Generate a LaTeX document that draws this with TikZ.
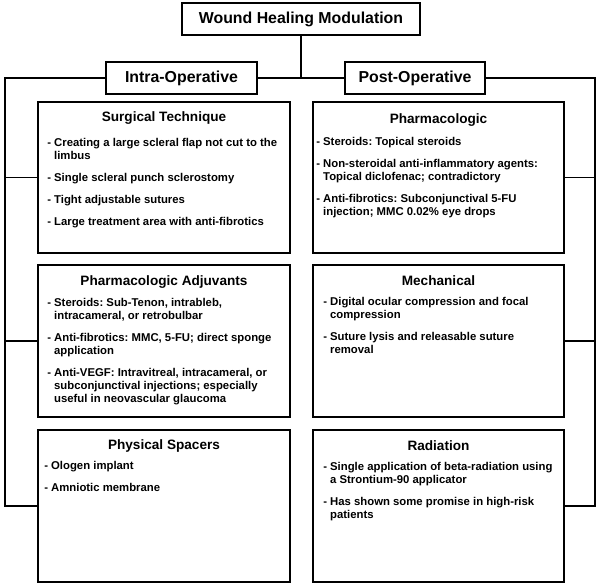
\documentclass[tikz,border=0pt]{standalone}
\usepackage{fontspec}
\setmainfont{Liberation Sans}
\newcommand\hng{\hphantom{- }}
\begin{document}
\frenchspacing
\begin{tikzpicture}[x=0.75pt,y=-0.75pt,
  hbox/.style={draw, line width=1.3pt, inner sep=0, outer sep=0, font=\bfseries\fontsize{11.9}{14}\selectfont},
  cbox/.style={draw, line width=1.3pt, inner sep=0, outer sep=0, anchor=north west},
  head/.style={font=\bfseries\fontsize{10.2}{12}\selectfont, anchor=base, inner sep=0},
  itm/.style={font=\bfseries\fontsize{8.5}{9.75}\selectfont, align=left, anchor=north west, inner sep=0},
  conn/.style={line width=1.3pt}]
\useasboundingbox (0,0) rectangle (600,585);
\fill[white] (0,0) rectangle (600,585);

\node[hbox, minimum width=178.5pt, minimum height=24pt] (top) at (301,19) {Wound Healing Modulation};
\node[hbox, minimum width=113.25pt, minimum height=24pt] (intra) at (181.5,78) {Intra-Operative};
\node[hbox, minimum width=105pt, minimum height=24pt] (post) at (415,78) {Post-Operative};

\node[cbox, minimum width=189pt, minimum height=113.25pt] (surg) at (38,102) {};
\node[cbox, minimum width=188.25pt, minimum height=113.25pt] (pharm) at (313,102) {};
\node[cbox, minimum width=189pt, minimum height=114pt] (adj) at (38,265) {};
\node[cbox, minimum width=188.25pt, minimum height=114pt] (mech) at (313,265) {};
\node[cbox, minimum width=189pt, minimum height=114pt] (phys) at (38,430) {};
\node[cbox, minimum width=188.25pt, minimum height=114pt] (rad) at (313,430) {};

\node[head] (surgH) at (164,122) {Surgical Technique};
\node[head] (pharmH) at (438.5,123) {Pharmacologic};
\node[head] (adjH) at (164,285) {Pharmacologic Adjuvants};
\node[head] (mechH) at (438.5,285) {Mechanical};
\node[head] (physH) at (164,449) {Physical Spacers};
\node[head] (radH) at (438.5,450) {Radiation};

\node[itm] (surgT) at (47,138.5) {- Creating a large scleral flap not cut to the\\ \hng limbus\\[6.75pt]
- Single scleral punch sclerostomy\\[6.75pt]
- Tight adjustable sutures\\[6.75pt]
- Large treatment area with anti-fibrotics};
\node[itm] (pharmT) at (316,137.5) {- Steroids: Topical steroids\\[6.75pt]
- Non-steroidal anti-inflammatory agents:\\ \hng Topical diclofenac; contradictory\\[6.75pt]
- Anti-fibrotics: Subconjunctival 5-FU\\ \hng injection; MMC 0.02\% eye drops};
\node[itm] (adjT) at (47,298.5) {- Steroids: Sub-Tenon, intrableb,\\ \hng intracameral, or retrobulbar\\[6.75pt]
- Anti-fibrotics: MMC, 5-FU; direct sponge\\ \hng application\\[6.75pt]
- Anti-VEGF: Intravitreal, intracameral, or\\ \hng subconjunctival injections; especially\\ \hng useful in neovascular glaucoma};
\node[itm] (mechT) at (323,297.5) {- Digital ocular compression and focal\\ \hng compression\\[6.75pt]
- Suture lysis and releasable suture\\ \hng removal};
\node[itm] (physT) at (44,461.5) {- Ologen implant\\[6.75pt]
- Amniotic membrane};
\node[itm] (radT) at (323,462.5) {- Single application of beta-radiation using\\ \hng a Strontium-90 applicator\\[6.75pt]
- Has shown some promise in high-risk\\ \hng patients};

\coordinate (L) at (5,78);
\coordinate (R) at (595,78);
\draw[conn] (top.south) -- (top.south |- intra.east);
\draw[conn] (intra.east) -- (post.west);
\draw[conn] (intra.west) -- (L) |- (phys.west);
\draw[conn] (L |- surg.west) -- (surg.west);
\draw[conn] (L |- adj.west) -- (adj.west);
\draw[conn] (post.east) -- (R) |- (rad.east);
\draw[conn] (R |- pharm.east) -- (pharm.east);
\draw[conn] (R |- mech.east) -- (mech.east);
\end{tikzpicture}
\end{document}
